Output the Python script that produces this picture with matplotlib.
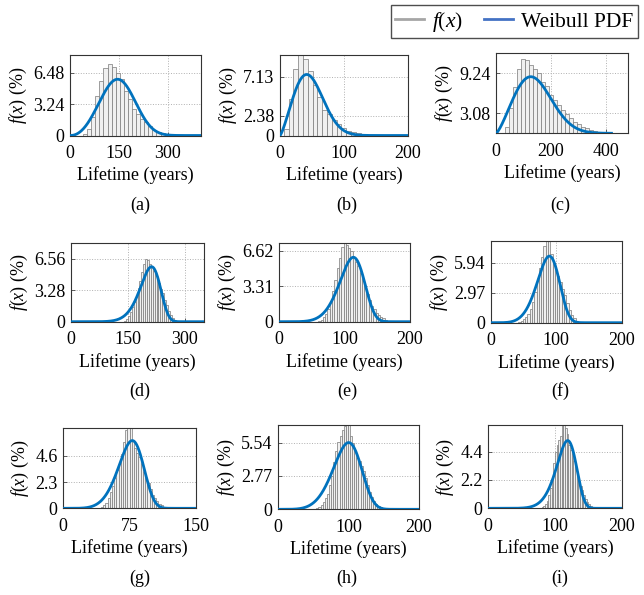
import numpy as np
import matplotlib
matplotlib.use("Agg")
import matplotlib.pyplot as plt
from matplotlib.lines import Line2D

plt.rcParams['font.family'] = ['Liberation Serif', 'DejaVu Serif']
plt.rcParams['mathtext.fontset'] = 'custom'
plt.rcParams['mathtext.it'] = 'Liberation Serif:italic'
plt.rcParams['mathtext.rm'] = 'Liberation Serif'
plt.rcParams['font.size'] = 13

panel_labels = ['(a)', '(b)', '(c)', '(d)', '(e)', '(f)', '(g)', '(h)', '(i)']

# histogram bins: first left edge, bin width, heights (%)
hist_start = [40, 6, 32, 140, 60, 42, 42.5, 54, 80]
hist_width = [12.5, 7.5, 14.5, 5, 3.5, 3.5, 2.5, 3, 2.5]
heights_a = [0.17, 0.68, 1.88, 4.1, 5.63, 7.0, 7.34, 7.1, 6.48, 5.8, 4.6, 3.75,
             2.73, 2.2, 1.7, 1.37, 0.96, 0.6, 0.4, 0.24, 0.13, 0.06]
heights_b = [0.82, 4.5, 8.1, 10.2, 9.3, 7.8, 6.1, 4.7, 3.06, 2.65, 1.84, 1.43,
             0.9, 0.6, 0.4, 0.25, 0.15, 0.1]
heights_c = [0.92, 3.85, 7.08, 9.85, 11.4, 11.2, 10.5, 9.85, 9.2, 7.9, 7.2, 5.9,
             5.1, 4.4, 3.6, 3.0, 2.3, 1.8, 1.44, 1.0, 0.77, 0.5, 0.36, 0.2]
heights_d = [0.1, 0.3, 0.6, 1.0, 1.5, 2.1, 2.8, 3.5, 4.3, 5.2, 6.0, 6.6, 6.4, 6.0,
             5.7, 5.3, 5.0, 4.6, 4.0, 3.4, 3.0, 2.3, 1.7, 1.1, 0.7, 0.35, 0.15, 0.05]
heights_e = [0.1, 0.2, 0.4, 0.7, 1.2, 1.9, 2.9, 3.9, 5.0, 6.0, 7.0, 7.4, 7.2, 6.9,
             6.6, 6.1, 5.6, 5.2, 4.6, 4.0, 3.3, 2.6, 2.0, 1.5, 1.15, 0.85, 0.6, 0.4,
             0.3, 0.15]
heights_f = [0.1, 0.2, 0.35, 0.6, 0.9, 1.4, 2.1, 3.0, 4.2, 5.4, 6.5, 7.6, 8.3, 8.5,
             6.8, 5.9, 5.2, 4.6, 4.0, 3.3, 2.7, 2.0, 1.3, 0.8, 0.45, 0.2, 0.1]
heights_g = [0.1, 0.25, 0.5, 0.9, 1.4, 2.0, 2.7, 3.4, 4.1, 4.8, 5.8, 6.9, 7.2, 7.1,
             5.9, 5.3, 4.9, 4.5, 3.9, 3.2, 2.7, 2.2, 1.7, 1.2, 0.9, 0.6, 0.4, 0.3,
             0.15, 0.08]
heights_h = [0.1, 0.2, 0.36, 0.6, 0.9, 1.3, 2.0, 2.8, 3.9, 4.8, 5.6, 6.1, 6.6, 6.9,
             7.2, 7.2, 6.1, 5.5, 4.8, 4.3, 4.0, 3.6, 3.2, 2.6, 2.0, 1.4, 1.0, 0.7,
             0.45, 0.3, 0.15]
heights_i = [0.1, 0.2, 0.3, 0.6, 1.0, 1.6, 2.4, 3.5, 4.4, 4.9, 5.3, 5.6, 6.5, 6.6,
             6.2, 5.8, 4.9, 4.5, 4.2, 3.7, 3.2, 2.6, 2.1, 1.7, 1.4, 1.0, 0.7, 0.5,
             0.3, 0.15]
hist_heights = [heights_a, heights_b, heights_c, heights_d, heights_e,
                heights_f, heights_g, heights_h, heights_i]

# fitted Weibull PDF: shape k, scale lambda, peak height (%), end of curve
wb_shape = [3.2, 2.3, 2.35, 8.5, 6.5, 5.8, 6.0, 5.5, 8.5]
wb_scale = [164, 53.4, 160, 215.1, 116.5, 92.6, 80.4, 103.7, 120.8]
pdf_peak = [5.8, 7.43, 8.7, 5.75, 6.03, 6.6, 5.95, 5.54, 5.26]
pdf_xmax = [400, 200, 420, 350, 200, 200, 150, 200, 200]

x_max = [400, 200, 480, 350, 200, 200, 150, 200, 200]
y_max = [8.3, 9.8, 12.3, 8.26, 7.34, 8.1, 7.03, 7.0, 6.47]
x_ticks = [[0, 150, 300], [0, 100, 200], [0, 200, 400], [0, 150, 300],
           [0, 100, 200], [0, 100, 200], [0, 75, 150], [0, 100, 200], [0, 100, 200]]
y_ticks = [[0, 3.24, 6.48], [0, 2.38, 7.13], [3.08, 9.24], [0, 3.28, 6.56],
           [0, 3.31, 6.62], [0, 2.97, 5.94], [0, 2.3, 4.6], [0, 2.77, 5.54],
           [0, 2.2, 4.4]]

# axes boxes in pixels: left, right, top, bottom
boxes = [(70, 200.5, 55, 135.5), (280, 408, 55, 135.5), (496, 628, 53.3, 133.3),
         (71, 204, 242.7, 321.7), (279, 410, 243.3, 321.7), (490.7, 621.7, 241, 322.7),
         (63.3, 196, 428.3, 508.3), (278.3, 419, 425, 509.3), (488.3, 621.7, 425, 508.3)]
caption_pos = [(140, 205), (347, 205), (560, 205),
               (140, 391), (347, 391), (560, 391),
               (140, 578), (347, 578), (560, 578)]

W, H = 644, 595
fig = plt.figure(figsize=(W / 100, H / 100), dpi=100)

curve_color = '#0072BD'
for i in range(9):
    l, r, t, b = boxes[i]
    ax = fig.add_axes([l / W, 1 - b / H, (r - l) / W, (b - t) / H])
    hs = hist_heights[i]
    edges = hist_start[i] + hist_width[i] * np.arange(len(hs))
    ax.bar(edges, hs, width=hist_width[i], align='edge', color='#f0f0f0',
           edgecolor='#7a7a7a', linewidth=0.5, zorder=2)

    k, lam = wb_shape[i], wb_scale[i]
    x = np.linspace(0, pdf_xmax[i], 400)
    pdf = (k / lam) * (x / lam) ** (k - 1) * np.exp(-(x / lam) ** k)
    ax.plot(x, pdf / pdf.max() * pdf_peak[i], color=curve_color, lw=2.0, zorder=3)

    ax.set_xlim(0, x_max[i])
    ax.set_ylim(0, y_max[i])
    ax.set_xticks(x_ticks[i])
    ax.set_yticks(y_ticks[i])
    ax.set_yticklabels([f"{v:g}" for v in y_ticks[i]])
    ax.grid(True, linestyle=':', color='#b0b0b0', linewidth=0.7, zorder=1)
    ax.set_axisbelow(True)
    ax.tick_params(direction='in', length=3, width=0.6, color='#444444',
                   labelsize=13)
    ax.tick_params(axis='x', pad=7)
    ax.tick_params(axis='y', pad=4)
    for s in ax.spines.values():
        s.set_color('#333333')
        s.set_linewidth(0.8)
    ax.set_xlabel('Lifetime (years)', fontsize=13, labelpad=3)
    ax.set_ylabel('$f(x)$ (%)', fontsize=13, labelpad=3)
    cx, cy = caption_pos[i]
    fig.text(cx / W, 1 - cy / H, panel_labels[i], ha='center', va='center', fontsize=13)

handles = [Line2D([], [], color='#a6a6a6', lw=2),
           Line2D([], [], color='#4472C4', lw=2)]
fig.legend(handles, ['$f(x)$', 'Weibull PDF'], loc='upper right',
           bbox_to_anchor=(638 / W, 1 - 5 / H), ncol=2, frameon=True,
           fancybox=False, edgecolor='#222222', fontsize=15.5,
           handlelength=1.35, columnspacing=1.0, handletextpad=0.35,
           borderpad=0.22, borderaxespad=0)

fig.savefig('out.png', dpi=100)
